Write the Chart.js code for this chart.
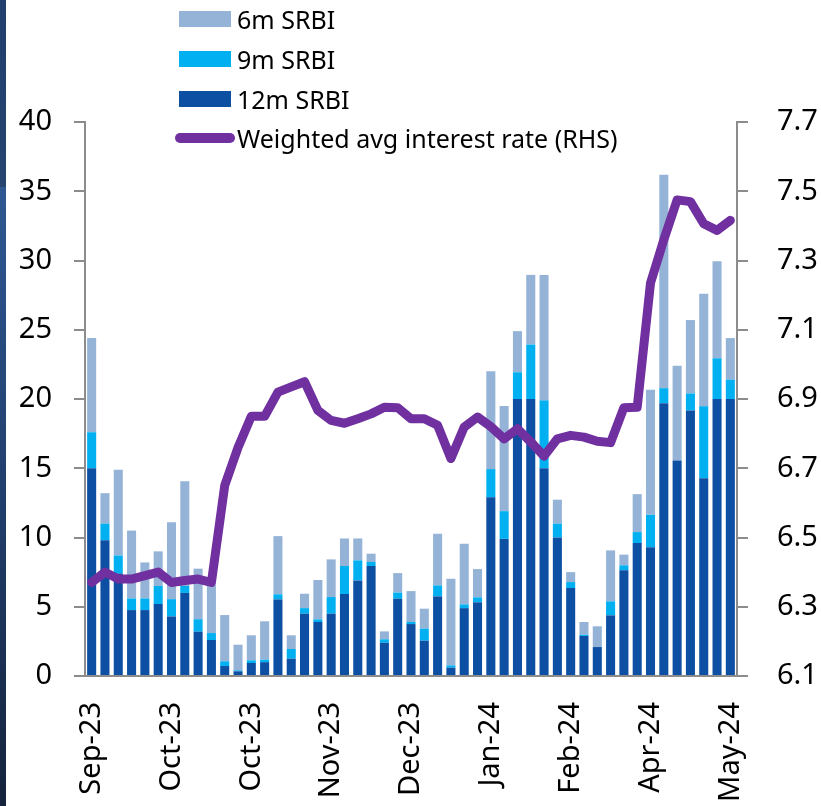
<!DOCTYPE html>
<html>
<head>
<meta charset="utf-8">
<title>SRBI</title>
<script src="https://cdn.jsdelivr.net/npm/chart.js@4.4.1/dist/chart.umd.min.js"></script>
<style>
  html, body { margin: 0; padding: 0; background: #fff; }
  #marco { position: relative; width: 821px; height: 806px; overflow: hidden; }
  #grafico { position: absolute; left: 0; top: 0; }
  .franja {
    position: absolute; left: 0; top: 0; width: 6px; height: 806px; z-index: 2;
    background: linear-gradient(to bottom, #223f6d 0px, #25446f 187px, #2e5892 187px, #203c69 520px, #15233b 806px);
  }
  #leyenda { position: absolute; left: 0; top: 0; z-index: 3; font-family: "Noto Sans", sans-serif; font-size: 25px; color: #000; }
  .fila { position: absolute; white-space: nowrap; height: 40px; line-height: 40px; }
  .muestra { position: absolute; }
  .texto { position: absolute; left: 58px; top: 0; }
</style>
</head>
<body>
<div id="marco">
  <div class="franja"></div>
  <canvas id="grafico" width="821" height="806"></canvas>
  <div id="leyenda"></div>
</div>
<script>
/* ===========================
   SRBI: montos por tenor y tasa promedio ponderada
   =========================== */

// Etiquetas visibles del eje X (una cada 6 subastas)
const ETIQUETAS_MES = ['Sep-23', 'Oct-23', 'Oct-23', 'Nov-23', 'Dec-23', 'Jan-24', 'Feb-24', 'Apr-24', 'May-24'];
const TOTAL_SUBASTAS = 49;

// Montos por tenor (eje izquierdo)
const SRBI_12M = [15.0, 9.8, 7.4, 4.76, 4.76, 5.2, 4.3, 6.0, 3.2, 2.6, 0.72, 0.34, 0.94, 1.0, 5.53, 1.25, 4.5,
  3.9, 4.5, 5.92, 6.9, 7.94, 2.4, 5.58, 3.75, 2.55, 5.75, 0.6, 4.9, 5.32, 12.9, 9.9, 20.0, 20.0, 15.0, 10.0,
  6.35, 2.89, 2.09, 4.38, 7.63, 9.6, 9.3, 19.7, 15.56, 19.17, 14.28, 20.0, 20.0];
const SRBI_9M = [2.6, 1.2, 1.3, 0.84, 0.84, 1.3, 1.25, 0.5, 0.9, 0.5, 0.34, 0.07, 0.19, 0.18, 0.37, 0.7, 0.4,
  0.19, 1.2, 2.02, 1.45, 0.29, 0.25, 0.44, 0.15, 0.87, 0.79, 0.17, 0.27, 0.36, 2.04, 2.0, 1.93, 3.93, 4.9, 1.0,
  0.43, 0.09, 0.0, 1.01, 0.36, 0.79, 2.34, 1.08, 0.0, 1.23, 5.2, 2.94, 1.4];
const SRBI_6M = [6.8, 2.2, 6.2, 4.9, 2.6, 2.5, 5.55, 7.57, 3.65, 3.5, 3.34, 1.85, 1.81, 2.77, 4.2, 0.99, 1.04,
  2.84, 2.72, 1.99, 1.58, 0.6, 0.57, 1.41, 2.23, 1.44, 3.73, 6.26, 4.38, 2.04, 7.06, 7.6, 2.97, 5.03, 9.06, 1.73,
  0.72, 0.92, 1.5, 3.68, 0.77, 2.74, 9.02, 15.42, 6.84, 5.3, 8.12, 7.0, 3.0];

// Tasa promedio ponderada (eje derecho)
const TASA_PONDERADA = [6.37, 6.40, 6.38, 6.38, 6.39, 6.40, 6.37, 6.376, 6.38, 6.37, 6.65, 6.76, 6.85, 6.85,
  6.92, 6.935, 6.95, 6.867, 6.838, 6.83, 6.843, 6.857, 6.876, 6.875, 6.843, 6.843, 6.824, 6.728, 6.819, 6.848,
  6.82, 6.785, 6.814, 6.776, 6.735, 6.785, 6.795, 6.79, 6.778, 6.774, 6.875, 6.876, 7.235, 7.36, 7.475, 7.47,
  7.406, 7.387, 7.416];

const TICKS_IZQ = [0, 5, 10, 15, 20, 25, 30, 35, 40];
const TICKS_DER = [6.1, 6.3, 6.5, 6.7, 6.9, 7.1, 7.3, 7.5, 7.7];

const COLORES = {
  m6: '#95b3d7',
  m9: '#00b0f0',
  m12: '#0d4fa3',
  tasa: '#7030a0',
  eje: '#8c8c8c',
};

const FUENTE = '"Noto Sans", sans-serif';

const categorias = Array.from({ length: TOTAL_SUBASTAS }, (_, i) => (i % 6 === 0 ? ETIQUETAS_MES[i / 6] : ''));

// --------- Leyenda ---------

function renderLeyenda() {
  const items = [
    { label: '6m SRBI', color: COLORES.m6, tipo: 'barra' },
    { label: '9m SRBI', color: COLORES.m9, tipo: 'barra' },
    { label: '12m SRBI', color: COLORES.m12, tipo: 'barra' },
    { label: 'Weighted avg interest rate (RHS)', color: COLORES.tasa, tipo: 'linea' },
  ];
  const tops = [0, 40, 80, 119];
  const cont = document.getElementById('leyenda');
  cont.innerHTML = items.map((it, i) => {
    const muestra = it.tipo === 'barra'
      ? `<div class="muestra" style="left:0;top:12px;width:52px;height:16px;background:${it.color}"></div>`
      : `<div class="muestra" style="left:-4px;top:15px;width:60px;height:10px;border-radius:5px;background:${it.color}"></div>`;
    return `<div class="fila" style="left:179px;top:${tops[i] - 1}px">${muestra}<span class="texto">${it.label}</span></div>`;
  }).join('');
}

// --------- Gráfico ---------

function ejeY(posicion, ticks, ancho, padding, decimales) {
  return {
    type: 'linear',
    position: posicion,
    min: ticks[0],
    max: ticks[ticks.length - 1],
    afterBuildTicks: (scale) => { scale.ticks = ticks.map(v => ({ value: v })); },
    afterFit: (scale) => { scale.width = ancho; },
    grid: { drawOnChartArea: false, drawTicks: true, tickLength: 11, color: COLORES.eje, lineWidth: 2 },
    border: { display: true, color: COLORES.eje, width: 2 },
    ticks: {
      padding,
      color: '#000',
      font: { family: FUENTE, size: 29 },
      callback: (v) => Number(v).toFixed(decimales),
    },
  };
}

function renderGrafico() {
  const ctx = document.getElementById('grafico');
  const barra = { type: 'bar', yAxisID: 'y', order: 1, categoryPercentage: 1, barPercentage: 0.68, stack: 'srbi' };

  new Chart(ctx, {
    data: {
      labels: categorias,
      datasets: [
        { ...barra, label: '12m SRBI', data: SRBI_12M, backgroundColor: COLORES.m12 },
        { ...barra, label: '9m SRBI', data: SRBI_9M, backgroundColor: COLORES.m9 },
        { ...barra, label: '6m SRBI', data: SRBI_6M, backgroundColor: COLORES.m6 },
        {
          type: 'line',
          label: 'Weighted avg interest rate (RHS)',
          data: TASA_PONDERADA,
          yAxisID: 'y2',
          order: 0,
          borderColor: COLORES.tasa,
          borderWidth: 9,
          borderJoinStyle: 'round',
          borderCapStyle: 'round',
          pointRadius: 0,
          tension: 0,
          fill: false,
        },
      ],
    },
    options: {
      responsive: false,
      animation: false,
      devicePixelRatio: 1,
      layout: { padding: { top: 122, left: 0, right: 0, bottom: 0 } },
      plugins: { legend: { display: false }, tooltip: { enabled: false } },
      scales: {
        x: {
          type: 'category',
          offset: true,
          stacked: true,
          afterFit: (scale) => { scale.height = 130; },
          grid: { display: false, drawTicks: false },
          border: { display: true, color: COLORES.eje, width: 2 },
          ticks: {
            autoSkip: false,
            minRotation: 90,
            maxRotation: 90,
            padding: 26,
            color: '#000',
            font: { family: FUENTE, size: 29 },
          },
        },
        y: { ...ejeY('left', TICKS_IZQ, 85, 22, 0), stacked: true },
        y2: ejeY('right', TICKS_DER, 84, 29, 1),
      },
    },
  });
}

renderLeyenda();
renderGrafico();
</script>
</body>
</html>
